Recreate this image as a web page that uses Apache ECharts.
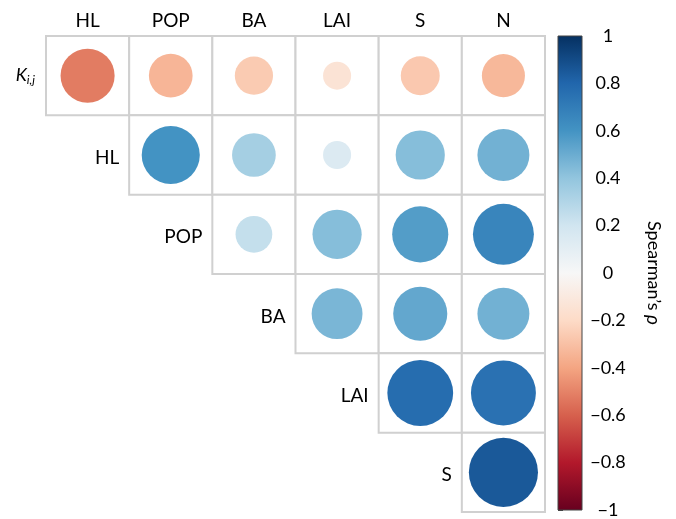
<!DOCTYPE html>
<html><head><meta charset="utf-8">
<script src="https://cdn.jsdelivr.net/npm/echarts@6/dist/echarts.min.js"></script>
<style>html,body{margin:0;padding:0;background:#fff}#c{width:676px;height:519px}</style>
</head><body><div id="c"></div>
<script>
const colLabels = ['HL', 'POP', 'BA', 'LAI', 'S', 'N'];
const rowLabels = ['K', 'HL', 'POP', 'BA', 'LAI', 'S'];
// Spearman's rho, upper triangle, each row starts at the diagonal column
const rhoK   = [-0.52, -0.34, -0.26, -0.14, -0.27, -0.33];
const rhoHL  = [0.60, 0.34, 0.14, 0.43, 0.48];
const rhoPOP = [0.24, 0.43, 0.56, 0.66];
const rhoBA  = [0.46, 0.52, 0.48];
const rhoLAI = [0.77, 0.75];
const rhoS   = [0.85];
const rows = [rhoK, rhoHL, rhoPOP, rhoBA, rhoLAI, rhoS];
const cbTicks = [-1, -0.8, -0.6, -0.4, -0.2, 0, 0.2, 0.4, 0.6, 0.8, 1];
const RdBu = ['#67001f','#b2182b','#d6604d','#f4a582','#fddbc7','#f7f7f7','#d1e5f0','#92c5de','#4393c3','#2166ac','#053061'];

const pts = [], cells = [], rowText = [];
rows.forEach((arr, r) => {
  arr.forEach((v, k) => { const c = r + k; pts.push([c, r, v]); cells.push([c, r]); });
  if (r > 0) rowText.push([r - 1, r, rowLabels[r]]);
});

const FONT = 'Lato';
const chart = echarts.init(document.getElementById('c'));
chart.setOption({
  animation: false,
  textStyle: { fontFamily: FONT },
  grid: [
    { left: 46, top: 36, width: 499, height: 476 },
    { left: 558, top: 36, width: 24, height: 477 }
  ],
  xAxis: [
    { type: 'category', data: colLabels, position: 'top', gridIndex: 0,
      axisLine: { show: false }, axisTick: { show: false },
      axisLabel: { fontSize: 19, color: '#000', margin: 6, fontFamily: FONT } },
    { type: 'value', gridIndex: 1, min: 0, max: 1, show: false }
  ],
  yAxis: [
    { type: 'category', data: rowLabels, inverse: true, gridIndex: 0,
      axisLine: { show: false }, axisTick: { show: false },
      axisLabel: { margin: 11, fontFamily: FONT,
        formatter: (v, i) => i === 0 ? '{k|K}{s|i,j}' : '',
        rich: { k: { fontSize: 18, fontStyle: 'italic', color: '#000', fontFamily: FONT },
                s: { fontSize: 12, fontStyle: 'italic', color: '#000', fontFamily: FONT, padding: [9, 0, 0, 0] } } } },
    { type: 'value', gridIndex: 1, min: -1, max: 1, interval: 0.2, position: 'right',
      axisLine: { show: false }, splitLine: { show: false },
      axisTick: { show: true, length: 5, lineStyle: { color: '#444' } },
      axisLabel: { fontSize: 18, color: '#000', align: 'center', margin: 26, fontFamily: FONT,
        formatter: v => { const x = parseFloat(v.toFixed(1)); return x < 0 ? '\u2212' + Math.abs(x) : String(x); } },
      name: '{a|Spearman\u2019s }{b|\u03c1}', nameLocation: 'middle', nameRotate: -90, nameGap: 62,
      nameTextStyle: { rich: { a: { fontSize: 18, color: '#000', fontFamily: FONT }, b: { fontSize: 19, fontStyle: 'italic', color: '#000', fontFamily: FONT } } } }
  ],
  visualMap: { show: false, min: -1, max: 1, dimension: 2, seriesIndex: 1, inRange: { color: RdBu } },
  series: [
    { type: 'custom', xAxisIndex: 0, yAxisIndex: 0, data: cells, z: 1,
      renderItem: (params, api) => {
        const p = api.coord([api.value(0), api.value(1)]);
        const s = api.size([1, 1]);
        return { type: 'rect', shape: { x: p[0] - s[0] / 2, y: p[1] - s[1] / 2, width: s[0], height: s[1] },
                 style: { fill: '#fff', stroke: '#d0d0d0', lineWidth: 2 } };
      } },
    { type: 'scatter', xAxisIndex: 0, yAxisIndex: 0, data: pts, z: 3,
      itemStyle: { opacity: 1 },
      symbolSize: val => 75 * Math.sqrt(Math.abs(val[2])) },
    { type: 'custom', xAxisIndex: 0, yAxisIndex: 0, data: rowText, z: 4,
      renderItem: (params, api) => {
        const p = api.coord([api.value(0), api.value(1)]);
        const s = api.size([1, 1]);
        return { type: 'text', style: { x: p[0] + s[0] / 2 - 10, y: p[1] + 3, text: rowText[params.dataIndex][2],
                 align: 'right', verticalAlign: 'middle', fontSize: 19, fontFamily: FONT, fill: '#000' } };
      } },
    { type: 'custom', xAxisIndex: 1, yAxisIndex: 1, data: [[0, 1, 1, -1]], z: 2,
      renderItem: (params, api) => {
        const a = api.coord([api.value(0), api.value(1)]);
        const b = api.coord([api.value(2), api.value(3)]);
        const stops = RdBu.slice().reverse().map((c, i) => ({ offset: i / (RdBu.length - 1), color: c }));
        return { type: 'rect', shape: { x: a[0], y: a[1], width: b[0] - a[0], height: b[1] - a[1] },
                 style: { fill: new echarts.graphic.LinearGradient(0, 0, 0, 1, stops), stroke: '#444', lineWidth: 1 } };
      } }
  ]
});
</script></body></html>
